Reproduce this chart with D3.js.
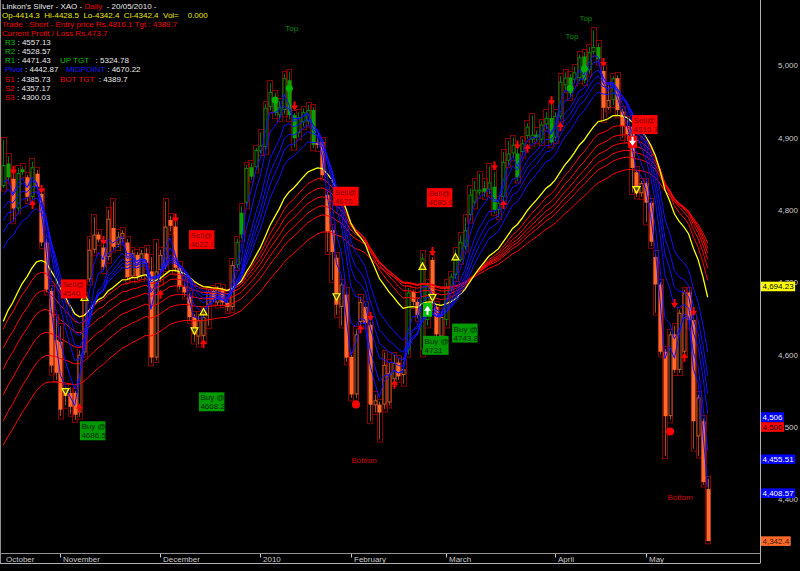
<!DOCTYPE html>
<html><head><meta charset="utf-8">
<script src="https://cdn.jsdelivr.net/npm/d3@7"></script>
<style>
body{margin:0;background:#000}
svg{display:block}
text{font-family:"Liberation Sans",Arial,sans-serif;font-size:8px;white-space:pre}
</style></head>
<body><svg id="c" width="800" height="571"></svg>
<script>
// ---------- DATA ----------
const opens = [4833,4864,4843,4802,4856,4845,4818,4850,4822,4755,4688,4620,4618,4550,4547,4547,4520,4603,4704,4745,
4766,4748,4735,4775,4752,4760,4755,4708,4738,4708,4740,4715,4596,4717,4722,4786,4777,4720,4694,4680,
4652,4625,4626,4669,4688,4672,4690,4672,4666,4724,4796,4810,4859,4859,4881,4887,4942,4954,4931,4938,
4979,4931,4906,4921,4922,4938,4893,4894,4821,4772,4734,4666,4683,4597,4545,4645,4666,4641,4530,4531,
4531,4534,4566,4589,4572,4606,4687,4673,4607,4648,4731,4666,4625,4648,4690,4710,4731,4749,4793,4810,
4824,4830,4828,4832,4800,4818,4868,4878,4878,4880,4902,4897,4904,4897,4918,4927,4900,4929,4972,4983,
4980,4982,5012,4993,5018,5025,4992,4941,4952,4982,4936,4916,4915,4852,4823,4837,4810,4735,4697,4604,
4515,4628,4579,4604,4686,4648,4487,4508,4414.3];
const highs = [4897,4874,4852,4858,4860,4848,4867,4855,4826,4760,4692,4652,4640,4556,4555,4550,4606,4682,4760,4790,
4770,4752,4800,4812,4770,4772,4760,4745,4742,4745,4748,4735,4755,4745,4812,4792,4785,4725,4700,4685,
4656,4656,4660,4690,4692,4695,4693,4675,4730,4760,4805,4862,4865,4886,4907,4946,4975,4962,4950,4988,
4990,4934,4935,4940,4945,4942,4900,4897,4825,4776,4738,4700,4690,4600,4635,4680,4670,4645,4545,4535,
4603,4590,4600,4595,4590,4692,4690,4676,4740,4700,4735,4670,4660,4700,4712,4745,4765,4790,4830,4840,
4850,4840,4860,4852,4815,4880,4895,4900,4885,4898,4920,4930,4910,4922,4935,4945,4935,4985,4990,4988,
4998,5015,5018,5025,5048,5030,4998,4972,4985,4986,4940,4925,4918,4856,4840,4840,4812,4740,4700,4608,
4632,4640,4662,4690,4690,4652,4545,4512,4428.5];
const lows = [4830,4840,4784,4798,4848,4812,4814,4828,4750,4686,4575,4565,4515,4530,4518,4510,4514,4600,4700,4740,
4755,4716,4730,4745,4748,4755,4703,4705,4703,4705,4722,4588,4592,4700,4718,4770,4714,4690,4680,4646,
4618,4614,4618,4640,4672,4668,4668,4660,4662,4720,4760,4805,4842,4855,4878,4880,4937,4930,4925,4932,
4925,4886,4900,4915,4918,4885,4885,4845,4742,4703,4655,4640,4590,4540,4540,4640,4640,4508,4520,4483,
4525,4530,4560,4565,4560,4600,4668,4650,4600,4640,4660,4620,4618,4640,4685,4705,4728,4745,4785,4805,
4820,4818,4822,4795,4790,4812,4862,4872,4840,4875,4898,4892,4895,4893,4912,4890,4895,4925,4965,4955,
4975,4978,4975,4988,5015,5003,4925,4938,4945,4930,4900,4895,4824,4818,4818,4783,4750,4658,4600,4460,
4510,4575,4575,4600,4640,4470,4460,4420,4342.4];
const closes = [4862,4845,4802,4851,4852,4818,4859,4832,4755,4690,4585,4575,4524,4543,4528,4517,4600,4676,4745,4766,
4759,4721,4788,4749,4763,4768,4707,4740,4708,4740,4727,4596,4715,4738,4777,4778,4720,4694,4686,4652,
4628,4648,4652,4687,4676,4690,4672,4666,4724,4756,4766,4858,4846,4883,4889,4941,4963,4934,4942,4982,
4931,4899,4928,4935,4938,4890,4890,4848,4770,4742,4669,4697,4596,4545,4628,4673,4644,4531,4537,4520,
4586,4575,4589,4570,4580,4686,4673,4655,4733,4696,4676,4628,4652,4694,4708,4731,4756,4772,4821,4828,
4828,4825,4838,4800,4810,4866,4878,4890,4845,4892,4915,4904,4900,4918,4927,4893,4930,4977,4983,4961,
4990,5011,4979,5018,5025,5008,4941,4952,4982,4938,4916,4905,4858,4823,4837,4810,4756,4697,4604,4515,
4628,4579,4658,4686,4648,4508,4541,4424,4342.4];
// trend state per bar (1 = long / green, 0 = short / orange)
const trend = ["1101101000","0000000000","0000000000","0000000000","0000000001",
"1111111111","1111110000","0000000000","0000010011","0001111111",
"1111111111","1111111111","1111110010","0000000000","000000000"].join("");

// moving average ribbons
const shortPeriods = [3,5,8,10,12,15];
const shortSeeds   = [4815,4800,4785,4768,4752,4730];
const longPeriods  = [30,35,40,45,50,60];
const longSeeds    = [4620,4594,4566,4530,4494,4462];
const signalPeriod = 25;
const signalSeed   = 4628;

// month axis
const monthLabels = ["October","November","December","2010","February","March","April","May"];
const monthIdx    = [0,12,33,54,73,93,116,135];
const priceTicks  = [4400,4500,4600,4700,4800,4900,5000];

// right-hand price tags
const tagValues = [4694.23,4506,4500,4455.51,4408.57,4342.4];
const tagLabels = ["4,694.23","4,506","4,500","4,455.51","4,408.57","4,342.4"];

// signal markers
const sellArrowIdx = [2,8,21,36,61,77,90,103,108,115,126,141,145];
const sellArrowPx  = [4854,4828,4757,4788,4943,4652,4742,4860,4889,4950,5003,4670,4659];
const buyArrowIdx  = [6,16,33,42,75,82,105,110,117,143];
const buyArrowPx   = [4808,4527,4684,4616,4636,4560,4808,4886,4916,4597];
const triDownIdx = [13,40,70,90,133], triDownPx = [4549,4633,4680,4679,4828];
const triUpIdx   = [17,42,88,95],     triUpPx   = [4679,4659,4722,4735];
const greenDotIdx = [57,60,119,122], greenDotPx = [4952,4968,4968,4995];
const redDotIdx = [74,140], redDotPx = [4531,4494];
const buySignalIdx = [89],  buySignalPx = [4662];
const sellSignalIdx = [132], sellSignalPx = [4894];
const sellLabelText = ["4540","4622.9","4670","4685.9","4816.1"];
const sellLabelIdx  = [12.1,39,69.3,89,132.1];
const sellLabelPx   = [4704,4772,4832,4830,4931];
const buyLabelText  = ["4686.5","4668.2","4731","4743.8"];
const buyLabelIdx   = [16.1,41.1,88.2,94.3];
const buyLabelPx    = [4508,4548,4626,4643];
const topIdx = [60.6,119.5,122.4], topPx = [5052,5040,5065];
const bottomIdx = [75.8,142.2], bottomPx = [4454,4404];

// ---------- DRAW ----------
const N = closes.length;
const svg = d3.select("#c");
const plotR = 760, plotB = 553;
svg.append("rect").attr("width",800).attr("height",571).attr("fill","#000");
const x = d3.scaleLinear().domain([0, N-1]).range([3.3, 707.7]);
const y = d3.scaleLinear().domain([4326, 5090]).range([553, 0]);
const step = x(1)-x(0);
svg.append("defs").append("clipPath").attr("id","clip")
  .append("rect").attr("x",1).attr("y",0).attr("width",plotR-1).attr("height",plotB);
const g = svg.append("g").attr("clip-path","url(#clip)");
const idx = d3.range(N);

// range boxes
g.append("g").selectAll("rect").data(idx).join("rect")
  .attr("x", i=>Math.round(x(i)-step/2)+0.5).attr("y", i=>Math.round(y(highs[i]))-2.5)
  .attr("width", Math.round(step)).attr("height", i=>Math.max(2, y(lows[i])-y(highs[i])+5))
  .attr("fill","none").attr("stroke","#860000").attr("stroke-width",1);

// candles
const isUp = i => trend[i]==="1";
const hollow = i => closes[i] > opens[i];
const cg = g.append("g");
cg.selectAll("line").data(idx).join("line")
  .attr("x1", i=>Math.round(x(i))+0.5).attr("x2", i=>Math.round(x(i))+0.5)
  .attr("y1", i=>y(highs[i])).attr("y2", i=>y(lows[i]))
  .attr("stroke", i=>isUp(i) ? "#007a00" : "#a04a1c").attr("stroke-width",1);
cg.selectAll("rect").data(idx).join("rect")
  .attr("x", i=>Math.round(x(i))-1.5+ (hollow(i)?0.5:0))
  .attr("width", i=> hollow(i) ? 3 : 4)
  .attr("y", i=>y(Math.max(opens[i],closes[i])) + (hollow(i)?0.5:0))
  .attr("height", i=>Math.max(1, Math.abs(y(opens[i])-y(closes[i])) - (hollow(i)?1:0)))
  .attr("fill", i=> hollow(i) ? "#000" : (isUp(i) ? "#00a400" : "#ff6a2a"))
  .attr("stroke", i=> hollow(i) ? (isUp(i) ? "#008800" : "#c0602a") : "none")
  .attr("stroke-width",1);

// EMA helper
function ema(vals, period, seed){ const a = 2/(period+1); let e = seed; return vals.map(v => (e = e + a*(v-e))); }
const lineGen = d3.line().x((d,i)=>x(i)).y(d=>y(d));
const lg = g.append("g").attr("fill","none");
longPeriods.forEach((p,k)=>{
  lg.append("path").attr("d", lineGen(ema(closes,p,longSeeds[k]))).attr("stroke","#ff0000").attr("stroke-width",1);
});
lg.append("path").attr("d", lineGen(ema(closes,signalPeriod,signalSeed))).attr("stroke","#ffff00").attr("stroke-width",1.3);
shortPeriods.forEach((p,k)=>{
  lg.append("path").attr("d", lineGen(ema(closes,p,shortSeeds[k]))).attr("stroke","#1010ff").attr("stroke-width",1);
});

// markers
const mg = g.append("g");
function downArrow(cx,cy){ return `M${cx-1},${cy-5}h2v4h2.5l-3.5,5l-3.5,-5h2.5z`; }
function upArrow(cx,cy){ return `M${cx-1},${cy+5}h2v-4h2.5l-3.5,-5l-3.5,5h2.5z`; }
sellArrowIdx.forEach((i,k)=> mg.append("path").attr("d", downArrow(Math.round(x(i))+0.5, y(sellArrowPx[k]))).attr("fill","#ff0000"));
buyArrowIdx.forEach((i,k)=> mg.append("path").attr("d", upArrow(Math.round(x(i))+0.5, y(buyArrowPx[k]))).attr("fill","#ff0000"));
triDownIdx.forEach((i,k)=>{ const cx=Math.round(x(i))+0.5, cy=y(triDownPx[k]);
  mg.append("path").attr("d",`M${cx-3.5},${cy-3}L${cx+3.5},${cy-3}L${cx},${cy+3.5}Z`).attr("fill","#5a4a00").attr("stroke","#ffff00").attr("stroke-width",1.2); });
triUpIdx.forEach((i,k)=>{ const cx=Math.round(x(i))+0.5, cy=y(triUpPx[k]);
  mg.append("path").attr("d",`M${cx-3.5},${cy+3}L${cx+3.5},${cy+3}L${cx},${cy-3.5}Z`).attr("fill","#5a4a00").attr("stroke","#ffff00").attr("stroke-width",1.2); });
greenDotIdx.forEach((i,k)=> mg.append("circle").attr("cx",x(i)+0.5).attr("cy",y(greenDotPx[k])).attr("r",3.5).attr("fill","#00b000"));
redDotIdx.forEach((i,k)=> mg.append("circle").attr("cx",x(i)+0.5).attr("cy",y(redDotPx[k])).attr("r",4).attr("fill","#ff0000"));
buySignalIdx.forEach((i,k)=>{ const cx=Math.round(x(i))+0.5, cy=y(buySignalPx[k]);
  mg.append("rect").attr("x",cx-4.5).attr("y",cy-7).attr("width",9).attr("height",14).attr("fill","#00c000");
  mg.append("path").attr("d", upArrow(cx,cy)).attr("fill","#fff"); });
sellSignalIdx.forEach((i,k)=>{ const cx=Math.round(x(i))+0.5, cy=y(sellSignalPx[k]);
  mg.append("rect").attr("x",cx-4.5).attr("y",cy-6).attr("width",9).attr("height",12).attr("fill","#ff0000");
  mg.append("path").attr("d", downArrow(cx,cy)).attr("fill","#fff"); });

// Sell / Buy labels
function tagBox(lx, ty, l1, l2, bg, fg){
  const gg = mg.append("g");
  gg.append("rect").attr("x",lx).attr("y",ty).attr("width",25.5).attr("height",19).attr("fill",bg);
  gg.append("text").attr("x",lx+1.5).attr("y",ty+8).attr("fill",fg).text(l1);
  gg.append("text").attr("x",lx+1.5).attr("y",ty+17).attr("fill",fg).text(l2);
}
sellLabelText.forEach((t,k)=> tagBox(x(sellLabelIdx[k]), y(sellLabelPx[k]), "Sell@", t, "#ff0000", "#7a0000"));
buyLabelText.forEach((t,k)=> tagBox(x(buyLabelIdx[k]), y(buyLabelPx[k]), "Buy @", t, "#009a00", "#002800"));
topIdx.forEach((i,k)=> mg.append("text").attr("x",x(i)).attr("y",y(topPx[k])+3).attr("text-anchor","middle").attr("fill","#008a00").text("Top"));
bottomIdx.forEach((i,k)=> mg.append("text").attr("x",x(i)).attr("y",y(bottomPx[k])+3).attr("text-anchor","middle").attr("fill","#d00000").text("Bottom"));

// ---------- HEADER ----------
const hdr = svg.append("g");
const lineY = k => 9 + 9.07*k;
function hline(xp, k, parts){
  const t = hdr.append("text").attr("x",xp).attr("y",lineY(k));
  parts.forEach(p => t.append("tspan").attr("fill",p[1]).text(p[0]));
}
const W_ = "#e8e8e8", RED = "#ee0000", GRN = "#00c000", BLU = "#1a1aff", YEL = "#e8e800";
hline(2,0,[["Linkon's Silver - XAO - ",W_],["Daily",RED],["  - 20/05/2010 -",W_]]);
hline(2,1,[["Op-4414.3  Hi-4428.5  Lo-4342.4  Cl-4342.4  Vol=    0.000",YEL]]);
hline(2,2,[["Trade : Short - Entry price Rs.4816.1 Tgt : 4389.7",RED]]);
hline(2,3,[["Current Profit / Loss Rs.473.7",RED]]);
hline(5,4,[["R3",GRN],[" : 4557.13",W_]]);
hline(5,5,[["R2",GRN],[" : 4528.57",W_]]);
hline(5,6,[["R1",GRN],[" : 4471.43",W_]]);
hline(60,6,[["UP TGT",GRN],["   : 5324.78",W_]]);
hline(5,7,[["Pivot",BLU],[" : 4442.87",W_]]);
hline(66,7,[["MIDPOINT",BLU],[" : 4670.22",W_]]);
hline(5,8,[["S1",RED],[" : 4385.73",W_]]);
hline(60,8,[["BOT TGT",RED],["  : 4389.7",W_]]);
hline(5,9,[["S2",RED],[" : 4357.17",W_]]);
hline(5,10,[["S3",RED],[" : 4300.03",W_]]);

// ---------- AXES ----------
const ax = svg.append("g");
ax.append("line").attr("x1",0.5).attr("x2",0.5).attr("y1",0).attr("y2",563).attr("stroke","#909090");
ax.append("line").attr("x1",plotR+0.5).attr("x2",plotR+0.5).attr("y1",0).attr("y2",563.5).attr("stroke","#b0b0b0");
ax.append("line").attr("x1",0).attr("x2",plotR).attr("y1",553.5).attr("y2",553.5).attr("stroke","#909090");
ax.append("line").attr("x1",0).attr("x2",plotR).attr("y1",563.5).attr("y2",563.5).attr("stroke","#b0b0b0");
priceTicks.forEach(v => ax.append("text").attr("x",798).attr("y",y(v)+3).attr("text-anchor","end").attr("fill","#c8c8c8").text(d3.format(",")(v)));
monthLabels.forEach((m,k)=>{
  const xp = Math.round(x(monthIdx[k]))+0.5;
  if (k>0) ax.append("line").attr("x1",xp).attr("x2",xp).attr("y1",554).attr("y2",557.5).attr("stroke","#c8c8c8");
  ax.append("text").attr("x",xp+2.5).attr("y",561.5).attr("fill","#c8c8c8").text(m);
});
// price tags
const tagBg = ["#ffff00","#0000ff","#ff0000","#0000ff","#0000ff","#ff6a2a"];
const tagFg = ["#000","#fff","#000","#fff","#fff","#3a1a00"];
tagValues.forEach((v,k)=>{
  let cy = y(v);
  if (k+1 < tagValues.length && Math.abs(y(tagValues[k+1]) - cy) < 10) cy = y(tagValues[k+1]) - 10;
  const t = ax.append("text").attr("x",762.5).attr("y",cy+3).attr("fill",tagFg[k]).text(tagLabels[k]);
  const w = t.node().getComputedTextLength();
  ax.insert("rect","text:last-child").attr("x",761).attr("y",cy-4.8).attr("width",w+3).attr("height",9.6).attr("fill",tagBg[k]);
  t.raise();
});
</script></body></html>
